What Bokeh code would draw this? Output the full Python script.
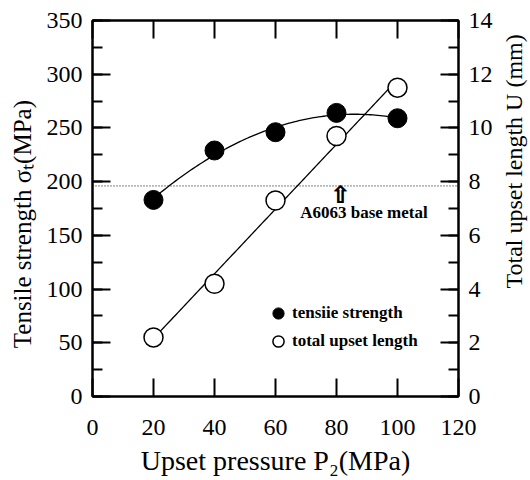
import numpy as np
from bokeh.plotting import figure
from bokeh.layouts import row
from bokeh.models import (Range1d, LinearAxis, SingleIntervalTicker, Span,
                          Label, Legend, LegendItem)
from bokeh.embed import file_html
from bokeh.resources import INLINE

# ---- data ----
pressure = [20, 40, 60, 80, 100]                 # Upset pressure P2 (MPa)
tensile_strength = [183, 229, 246, 264, 259]     # MPa (left axis)
upset_length = [2.2, 4.2, 7.3, 9.7, 11.5]        # mm (right axis)
base_metal_strength = 196                        # A6063 base metal (MPa)

x_tick_interval = 20
left_tick_interval = 50
right_tick_interval = 2

# fitted trend curves (quadratic for strength, linear for upset length)
xs = np.linspace(min(pressure), max(pressure), 100)
fit_t = np.polyval(np.polyfit(pressure, tensile_strength, 2), xs)
fit_u = np.polyval(np.polyfit(pressure, upset_length, 1), xs)

SERIF = "Liberation Serif"

p = figure(width=500, height=480, output_backend="svg", toolbar_location=None,
           x_range=Range1d(0, 120), y_range=Range1d(0, 350),
           min_border_left=92, min_border_right=42, min_border_top=20,
           min_border_bottom=84, background_fill_color="white",
           border_fill_color="white")
p.extra_y_ranges = {"u": Range1d(0, 14)}
p.grid.visible = False
p.outline_line_color = "black"
p.outline_line_width = 2

bottom = p.below[0]
left = p.left[0]
bottom.ticker = SingleIntervalTicker(interval=x_tick_interval, num_minor_ticks=0)
left.ticker = SingleIntervalTicker(interval=left_tick_interval, num_minor_ticks=2)
bottom.axis_label = "Upset pressure P\u2082(MPa)"
left.axis_label = "Tensile strength \u03c3\u209c(MPa)     "

right = LinearAxis(y_range_name="u",
                   ticker=SingleIntervalTicker(interval=right_tick_interval, num_minor_ticks=2))
p.add_layout(right, "right")
top = LinearAxis(ticker=SingleIntervalTicker(interval=x_tick_interval, num_minor_ticks=0))
p.add_layout(top, "above")


def style(ax):
    ax.axis_line_width = 2
    ax.axis_line_color = "black"
    ax.major_tick_in = 18
    ax.major_tick_out = 0
    ax.minor_tick_in = 10
    ax.minor_tick_out = 0
    ax.major_tick_line_width = 2
    ax.minor_tick_line_width = 2
    ax.major_tick_line_color = "black"
    ax.minor_tick_line_color = "black"
    ax.major_label_text_font = SERIF
    ax.major_label_text_font_size = "24px"
    ax.major_label_text_color = "black"
    ax.major_label_standoff = 10
    ax.axis_label_text_font = SERIF
    ax.axis_label_text_font_size = "27px"
    ax.axis_label_text_font_style = "normal"
    ax.axis_label_text_color = "black"
    ax.axis_label_standoff = 8


for ax in [bottom, left, right, top]:
    style(ax)
top.major_label_text_font_size = "0px"
top.major_label_standoff = 0
bottom.major_label_standoff = 23
bottom.axis_label_standoff = 7
bottom.axis_label_text_font_size = "28px"
left.axis_label_standoff = 8
left.axis_label_text_font_size = "25px"

# base metal reference line
p.add_layout(Span(location=base_metal_strength, dimension="width",
                  line_color="black", line_width=1, line_dash="1 2"))

# trend curves
p.line(xs, fit_t, line_color="black", line_width=1.3)
p.line(xs, fit_u, line_color="black", line_width=1.3, y_range_name="u")

r_t = p.scatter(pressure, tensile_strength, size=19, marker="circle",
                fill_color="black", line_color="black")
r_u = p.scatter(pressure, upset_length, size=19, marker="circle",
                fill_color="white", line_color="black", line_width=1.5,
                y_range_name="u")

# annotation: hollow up-arrow pointing to the base-metal line, and its label
for dx in (-0.12, 0.12):
    p.add_layout(Label(x=81.3 + dx, y=187.5, text="\u21e7", text_font="DejaVu Sans",
                       text_font_size="24px", text_font_style="bold",
                       text_align="center", text_baseline="middle",
                       text_color="black"))
p.add_layout(Label(x=89, y=171.5, text="A6063 base metal", text_font=SERIF,
                   text_font_size="17px", text_font_style="bold",
                   text_align="center", text_baseline="middle",
                   text_color="black"))

legend = Legend(items=[LegendItem(label="tensiie strength", renderers=[r_t]),
                       LegendItem(label="total upset length", renderers=[r_u])],
                location=(172, 41), padding=0, margin=0, spacing=-1,
                glyph_width=28, glyph_height=28, label_standoff=0,
                border_line_alpha=0, background_fill_alpha=0,
                label_text_font=SERIF, label_text_font_size="17px",
                label_text_font_style="bold", label_text_color="black")
p.add_layout(legend)

# narrow strip to the right holding the right-axis title (reads bottom-to-top)
p2 = figure(width=30, height=480, output_backend="svg", toolbar_location=None,
            x_range=Range1d(0, 30), y_range=Range1d(0, 480),
            x_axis_location=None, y_axis_location=None,
            min_border=0, outline_line_color=None,
            background_fill_color="white", border_fill_color="white")
p2.grid.visible = False
p2.add_layout(Label(x=13, y=108, x_units="screen", y_units="screen",
                    text="Total upset length  U (mm)", angle=np.pi / 2,
                    text_font=SERIF, text_font_size="24px", text_align="left",
                    text_baseline="middle", text_color="black"))

layout = row(p, p2, spacing=0)
open("out.html", "w").write(file_html(layout, INLINE))
